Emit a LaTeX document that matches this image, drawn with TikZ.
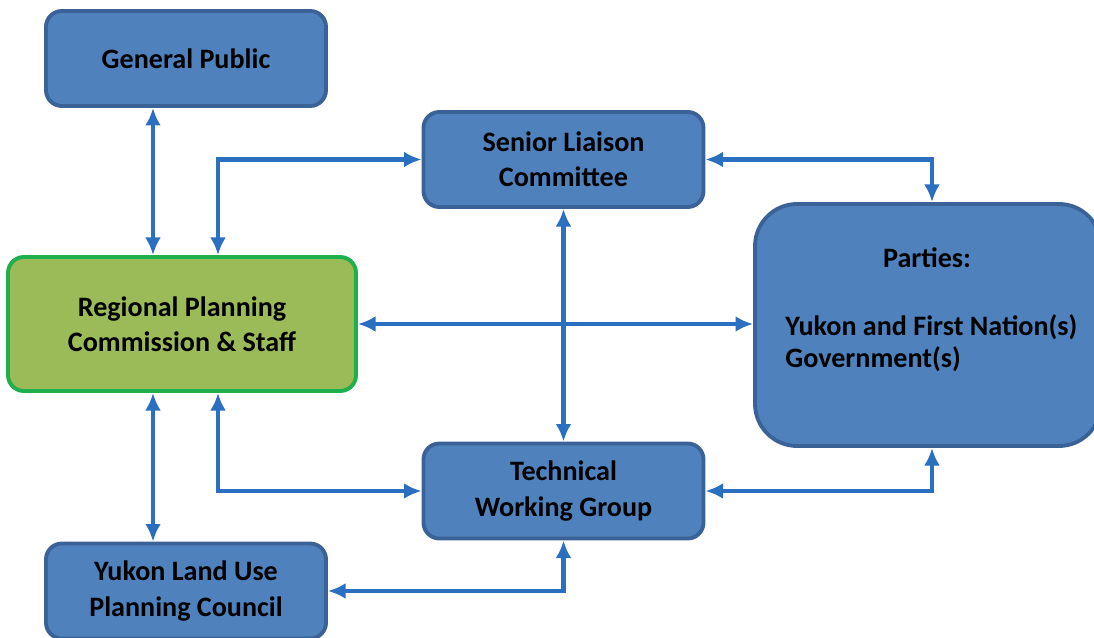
\documentclass[tikz,border=0pt]{standalone}
\usepackage{fontspec}
\setmainfont{Carlito}
\usetikzlibrary{arrows.meta}
\definecolor{boxblue}{HTML}{4F81BD}
\definecolor{boxedge}{HTML}{3A6296}
\definecolor{arrowblue}{HTML}{2B6FC0}
\definecolor{rpcgreen}{HTML}{9BBB59}
\definecolor{rpcedge}{HTML}{1DB04C}

\begin{document}
\begin{tikzpicture}[x=0.02cm, y=-0.02cm,
  bluebox/.style={draw=boxedge, fill=boxblue, line width=2.2pt, rounded corners=9pt, minimum width=280*0.02cm, minimum height=95*0.02cm, align=center, font=\fontsize{16}{20}\selectfont\bfseries},
  greenbox/.style={bluebox, draw=rpcedge, fill=rpcgreen, minimum width=348*0.02cm, minimum height=134*0.02cm},
  partybox/.style={bluebox, rounded corners=24pt, minimum width=346*0.02cm, minimum height=242*0.02cm},
  lbl/.style={font=\fontsize{16}{18}\selectfont\bfseries, align=left, inner sep=0pt},
  link/.style={draw=arrowblue, line width=2.5pt, {Latex[length=10pt,width=9pt]}-{Latex[length=10pt,width=9pt]}}]
\clip (0,0) rectangle (1094,638);
\fill[white] (0,0) rectangle (1094,638);

\node[bluebox] (public) at (186,58.5) {General Public};
\node[greenbox] (rpc) at (182,324) {Regional Planning\\Commission \& Staff};
\node[bluebox] (slc) at (563.5,159.5) {Senior Liaison\\Committee};
\node[bluebox] (twg) at (563.5,491) {Technical\\Working Group};
\node[bluebox] (ylupc) at (186,591) {Yukon Land Use\\Planning Council};
\node[partybox] (parties) at (928,325) {};
\node[lbl] (partiestitle) at (927,258) {Parties:};
\node[lbl, anchor=west] (partiestext) at (785,343) {Yukon and First Nation(s)\\Government(s)};

\coordinate (colA) at (153,0);
\coordinate (colB) at (218,0);
\coordinate (colC) at (932,0);

\draw[link] (public.south -| colA) -- (rpc.north -| colA);
\draw[link] (slc.west) -| (rpc.north -| colB);
\draw[link] (rpc.east) -- (parties.west |- rpc.east);
\draw[link] (slc.south) -- (twg.north);
\draw[link] (slc.east) -| (parties.north -| colC);
\draw[link] (twg.east) -| (parties.south -| colC);
\draw[link] (rpc.south -| colB) |- (twg.west);
\draw[link] (rpc.south -| colA) -- (ylupc.north -| colA);
\draw[link] (ylupc.east) -| (twg.south);
\end{tikzpicture}
\end{document}
